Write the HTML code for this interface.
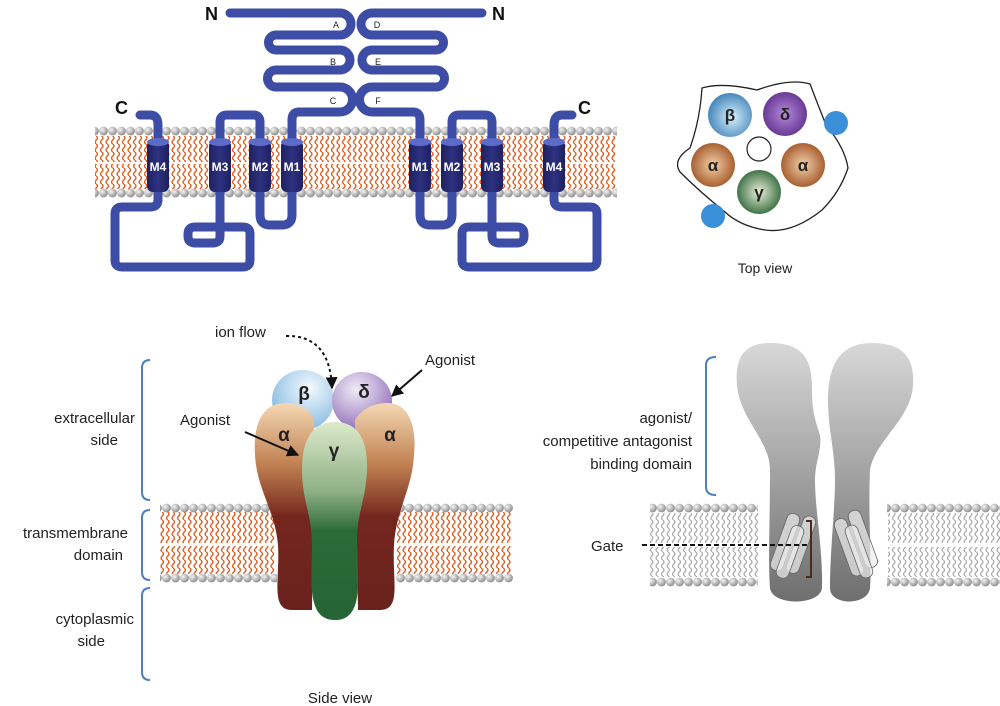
<!DOCTYPE html>
<html><head><meta charset="utf-8"><style>
html,body{margin:0;padding:0;background:#fff}
svg{display:block}
text{font-family:"Liberation Sans",sans-serif}
</style></head><body>
<svg width="1000" height="706" viewBox="0 0 1000 706" xmlns="http://www.w3.org/2000/svg">
<defs>
<radialGradient id="bead" cx="0.35" cy="0.35" r="0.7"><stop offset="0" stop-color="#f4f4f4"/><stop offset="1" stop-color="#8a8a8a"/></radialGradient>
<pattern id="b1" patternUnits="userSpaceOnUse" x="0" y="126" width="9" height="10"><circle cx="4.5" cy="5" r="4.4" fill="url(#bead)"/></pattern>
<pattern id="b2" patternUnits="userSpaceOnUse" x="0" y="188" width="9" height="10"><circle cx="4.5" cy="5" r="4.4" fill="url(#bead)"/></pattern>
<pattern id="b3" patternUnits="userSpaceOnUse" x="0" y="503" width="9" height="10"><circle cx="4.5" cy="5" r="4.4" fill="url(#bead)"/></pattern>
<pattern id="b4" patternUnits="userSpaceOnUse" x="0" y="573" width="9" height="10"><circle cx="4.5" cy="5" r="4.4" fill="url(#bead)"/></pattern>
<pattern id="b5" patternUnits="userSpaceOnUse" x="0" y="577" width="9" height="10"><circle cx="4.5" cy="5" r="4.4" fill="url(#bead)"/></pattern>
<pattern id="tails" patternUnits="userSpaceOnUse" width="5.5" height="8"><path d="M2.75,0 Q5.2,2 2.75,4 Q0.3,6 2.75,8" fill="none" stroke="#e35a1c" stroke-width="1.4"/></pattern>
<pattern id="gtails" patternUnits="userSpaceOnUse" width="5.5" height="8"><path d="M2.75,0 Q5.2,2 2.75,4 Q0.3,6 2.75,8" fill="none" stroke="#a8a8a8" stroke-width="1.2"/></pattern>
<linearGradient id="cyl" x1="0" x2="1"><stop offset="0" stop-color="#1e2060"/><stop offset="0.5" stop-color="#2e3280"/><stop offset="1" stop-color="#1e2060"/></linearGradient>
<radialGradient id="gb" cx="0.55" cy="0.55" r="0.6"><stop offset="0" stop-color="#d8f0fb"/><stop offset="1" stop-color="#3a7fb8"/></radialGradient>
<radialGradient id="gd" cx="0.5" cy="0.5" r="0.6"><stop offset="0" stop-color="#b48ad8"/><stop offset="1" stop-color="#5a2a8a"/></radialGradient>
<radialGradient id="ga" cx="0.5" cy="0.5" r="0.6"><stop offset="0" stop-color="#f2d0a8"/><stop offset="1" stop-color="#9a4a1a"/></radialGradient>
<radialGradient id="gg" cx="0.5" cy="0.5" r="0.6"><stop offset="0" stop-color="#e8f0d8"/><stop offset="1" stop-color="#1f5a2a"/></radialGradient>
<linearGradient id="sa" x1="0" y1="0" x2="0" y2="1"><stop offset="0" stop-color="#f4d8b4"/><stop offset="0.3" stop-color="#c08050"/><stop offset="0.55" stop-color="#74261e"/><stop offset="1" stop-color="#6a221e"/></linearGradient>
<linearGradient id="sg" x1="0" y1="0" x2="0" y2="1"><stop offset="0" stop-color="#dceacc"/><stop offset="0.35" stop-color="#8fb085"/><stop offset="0.55" stop-color="#2c6a3a"/><stop offset="1" stop-color="#266436"/></linearGradient>
<radialGradient id="sb" cx="0.6" cy="0.3" r="0.8"><stop offset="0" stop-color="#f4faff"/><stop offset="1" stop-color="#7ab2dc"/></radialGradient>
<radialGradient id="sd" cx="0.4" cy="0.3" r="0.8"><stop offset="0" stop-color="#f0ecf6"/><stop offset="1" stop-color="#8a62b4"/></radialGradient>
<linearGradient id="gr" x1="0" y1="0" x2="0" y2="1"><stop offset="0" stop-color="#d8d8d8"/><stop offset="1" stop-color="#6e6e6e"/></linearGradient>
<marker id="ah" viewBox="0 0 10 10" refX="9" refY="5" markerWidth="6" markerHeight="6" orient="auto"><path d="M0,0 L10,5 L0,10 Z" fill="#111"/></marker>
</defs>

<!-- TOP MEMBRANE -->
<rect x="95" y="136" width="520" height="26" fill="url(#tails)"/>
<rect x="95" y="164" width="520" height="25" fill="url(#tails)"/>
<rect x="95" y="126" width="522" height="10" fill="url(#b1)"/>
<rect x="95" y="188" width="522" height="10" fill="url(#b2)"/>

<g id="chainL" fill="none" stroke="#3d4da6" stroke-width="9" stroke-linecap="round" stroke-linejoin="round">
<path d="M230,13 H340 A11,11 0 0 1 340,35 H276 A7.5,7.5 0 0 0 276,50 H340 A10,10 0 0 1 340,70 H276 A8.5,8.5 0 0 0 276,87 H340 A12.5,12.5 0 0 1 340,112 H299 Q292,112 292,120 V145"/>
<path d="M140,115 H150 Q158,115 158,125 V145"/>
<path d="M220,145 V122 Q220,115 227,115 H253 Q260,115 260,122 V145"/>
<path d="M260,188 V215 Q260,225 270,225 H282 Q292,225 292,215 V188"/>
<path d="M158,188 V200 Q158,207 150,207 H122 Q115,207 115,214 V260 Q115,267 122,267 H243 Q250,267 250,260 V234 Q250,227 243,227 H195 Q188,227 188,234 V236 Q188,243 195,243 H213 Q220,243 220,236 V188"/>
</g>
<use href="#chainL" transform="translate(712,0) scale(-1,1)"/>
<g id="cylL">
<rect x="147" y="140" width="22" height="52" rx="6" fill="url(#cyl)"/><ellipse cx="158" cy="142" rx="11" ry="4" fill="#5a6cc8"/>
<rect x="209" y="140" width="22" height="52" rx="6" fill="url(#cyl)"/><ellipse cx="220" cy="142" rx="11" ry="4" fill="#5a6cc8"/>
<rect x="249" y="140" width="22" height="52" rx="6" fill="url(#cyl)"/><ellipse cx="260" cy="142" rx="11" ry="4" fill="#5a6cc8"/>
<rect x="281" y="140" width="22" height="52" rx="6" fill="url(#cyl)"/><ellipse cx="292" cy="142" rx="11" ry="4" fill="#5a6cc8"/>
</g>
<use href="#cylL" transform="translate(712,0) scale(-1,1)"/>
<g font-size="12" font-weight="bold" fill="#fff" text-anchor="middle">
<text x="158" y="171">M4</text><text x="220" y="171">M3</text><text x="260" y="171">M2</text><text x="292" y="171">M1</text>
<text x="420" y="171">M1</text><text x="452" y="171">M2</text><text x="492" y="171">M3</text><text x="554" y="171">M4</text>
</g>
<g font-size="9" fill="#222" text-anchor="middle">
<text x="336" y="28">A</text><text x="333" y="65">B</text><text x="333" y="104">C</text>
<text x="377" y="28">D</text><text x="378" y="65">E</text><text x="378" y="104">F</text>
</g>
<g font-size="18" font-weight="bold" fill="#111">
<text x="205" y="20">N</text><text x="492" y="20">N</text><text x="115" y="114">C</text><text x="578" y="114">C</text>
</g>

<!-- TOP VIEW -->
<path d="M702,88 Q722,82 757,90 Q790,78 810,84 Q818,105 826,125 Q845,148 848,168 Q840,192 822,210 Q792,234 765,230 Q740,226 725,212 Q700,192 680,172 Q672,160 690,148 Q700,120 702,88 Z" fill="#fff" stroke="#222" stroke-width="1.3"/>
<circle cx="730" cy="115" r="22" fill="url(#gb)"/>
<circle cx="785" cy="114" r="22" fill="url(#gd)"/>
<circle cx="713" cy="165" r="22" fill="url(#ga)"/>
<circle cx="803" cy="165" r="22" fill="url(#ga)"/>
<circle cx="759" cy="192" r="22" fill="url(#gg)"/>
<circle cx="759" cy="149" r="12" fill="#fff" stroke="#222" stroke-width="1.2"/>
<circle cx="836" cy="123" r="12" fill="#3a8fd8"/>
<circle cx="713" cy="216" r="12" fill="#3a8fd8"/>
<g font-family="Liberation Serif,serif" font-size="17" font-weight="bold" fill="#222" text-anchor="middle">
<text x="730" y="121">β</text><text x="785" y="120">δ</text><text x="713" y="171">α</text><text x="803" y="171">α</text><text x="759" y="198">γ</text>
</g>
<text x="765" y="273" font-size="14" fill="#222" text-anchor="middle">Top view</text>

<!-- SIDE VIEW -->
<rect x="160" y="512" width="115" height="31" fill="url(#tails)"/>
<rect x="160" y="546" width="115" height="28" fill="url(#tails)"/>
<rect x="160" y="503" width="117" height="10" fill="url(#b3)"/>
<rect x="160" y="573" width="117" height="10" fill="url(#b4)"/>
<rect x="397" y="512" width="115" height="31" fill="url(#tails)"/>
<rect x="397" y="546" width="115" height="28" fill="url(#tails)"/>
<rect x="396" y="503" width="117" height="10" fill="url(#b3)"/>
<rect x="396" y="573" width="117" height="10" fill="url(#b4)"/>

<ellipse cx="303" cy="400" rx="31" ry="30" fill="url(#sb)"/>
<ellipse cx="362" cy="401" rx="30" ry="29" fill="url(#sd)"/>
<path d="M285,403 C262,403 253,425 255,455 C257,490 275,510 278,545 C280,580 270,610 292,610 L312,610 L314,420 C310,408 298,403 285,403 Z" fill="url(#sa)"/>
<path d="M388,403 C408,403 417,425 414,455 C412,490 396,510 394,545 C392,580 402,610 380,610 L358,610 L355,420 C362,408 375,403 388,403 Z" fill="url(#sa)"/>
<path d="M335,422 C358,422 368,440 367,470 C366,500 356,515 357,545 C358,580 364,620 335,620 C306,620 312,580 312,545 C312,515 302,500 302,470 C302,440 312,422 335,422 Z" fill="url(#sg)"/>
<g font-family="Liberation Serif,serif" font-size="19" font-weight="bold" fill="#222" text-anchor="middle">
<text x="304" y="400">β</text><text x="364" y="398">δ</text><text x="284" y="441">α</text><text x="390" y="441">α</text><text x="334" y="457">γ</text>
</g>
<text x="215" y="337" font-size="15" fill="#222">ion flow</text>
<path d="M286,336 Q330,335 332,388" fill="none" stroke="#111" stroke-width="2" stroke-dasharray="3,3" marker-end="url(#ah)"/>
<text x="425" y="365" font-size="15" fill="#222">Agonist</text>
<line x1="422" y1="370" x2="392" y2="396" stroke="#111" stroke-width="2" marker-end="url(#ah)"/>
<text x="180" y="425" font-size="15" fill="#222">Agonist</text>
<line x1="245" y1="432" x2="298" y2="455" stroke="#111" stroke-width="2" marker-end="url(#ah)"/>

<g fill="none" stroke="#4a7fc0" stroke-width="2">
<path d="M150,360 Q142,360 142,368 V492 Q142,500 150,500"/>
<path d="M150,510 Q142,510 142,518 V572 Q142,580 150,580"/>
<path d="M150,588 Q142,588 142,596 V672 Q142,680 150,680"/>
<path d="M716,357 Q706,357 706,365 V487 Q706,495 716,495"/>
</g>
<g font-size="15" fill="#222" text-anchor="end">
<text x="135" y="423">extracellular</text><text x="118" y="445">side</text>
<text x="128" y="538">transmembrane</text><text x="123" y="560">domain</text>
<text x="134" y="624">cytoplasmic</text><text x="105" y="646">side</text>
<text x="692" y="423">agonist/</text><text x="692" y="446">competitive antagonist</text><text x="692" y="469">binding domain</text>
</g>
<text x="340" y="703" font-size="15" fill="#222" text-anchor="middle">Side view</text>

<!-- RIGHT GREY CHANNEL -->
<rect x="650" y="513" width="108" height="30" fill="url(#gtails)"/>
<rect x="650" y="547" width="108" height="30" fill="url(#gtails)"/>
<rect x="650" y="503" width="108" height="10" fill="url(#b3)"/>
<rect x="650" y="577" width="108" height="10" fill="url(#b5)"/>
<rect x="888" y="513" width="112" height="30" fill="url(#gtails)"/>
<rect x="888" y="547" width="112" height="30" fill="url(#gtails)"/>
<rect x="887" y="503" width="113" height="10" fill="url(#b3)"/>
<rect x="887" y="577" width="113" height="10" fill="url(#b5)"/>
<path d="M770,343 C742,343 735,360 737,385 C740,420 770,440 770,470 C770,520 768,560 770,588 C772,606 820,606 822,588 C823,550 815,510 815,480 C815,462 822,450 820,435 C815,420 812,410 812,390 C812,365 808,343 770,343 Z" fill="url(#gr)"/>
<path d="M872,343 C900,343 915,355 913,385 C911,420 875,440 870,470 C868,520 872,560 870,588 C868,606 830,606 830,588 C830,550 835,510 835,480 C835,450 828,430 828,400 C828,362 842,343 872,343 Z" fill="url(#gr)"/>
<g fill="#eee" fill-opacity="0.7" stroke="#666" stroke-width="0.8">
<g transform="rotate(20 793 545)"><rect x="778" y="515" width="13" height="60" rx="6"/><rect x="794" y="512" width="13" height="60" rx="6"/><rect x="786" y="525" width="13" height="55" rx="6"/></g>
<g transform="rotate(-20 855 545)"><rect x="842" y="515" width="13" height="60" rx="6"/><rect x="858" y="512" width="13" height="60" rx="6"/><rect x="850" y="525" width="13" height="55" rx="6"/></g>
</g>
<path d="M806,521 H811 V577 H806" fill="none" stroke="#4a2a1a" stroke-width="2"/>
<text x="591" y="551" font-size="15" fill="#222">Gate</text>
<line x1="642" y1="545" x2="808" y2="545" stroke="#111" stroke-width="2" stroke-dasharray="5,3"/>
</svg>
</body></html>
